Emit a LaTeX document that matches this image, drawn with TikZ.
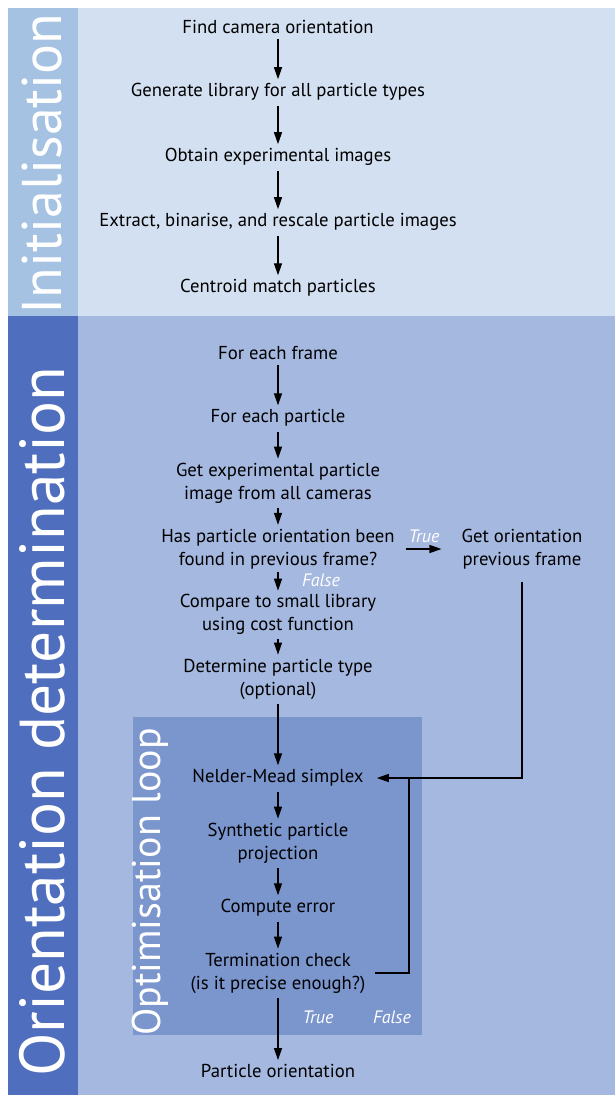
\documentclass[tikz,border=0pt]{standalone}
\usepackage{fontspec}
\setmainfont{PT Sans}
\usetikzlibrary{arrows.meta}
\definecolor{initback}{HTML}{D3E0F1}
\definecolor{initstrip}{HTML}{A5C2E3}
\definecolor{detback}{HTML}{A5B8E0}
\definecolor{detstrip}{HTML}{4F6EBD}
\definecolor{loopback}{HTML}{7B95CD}
\begin{document}
\begin{tikzpicture}[x=1pt,y=-1pt,
	stage/.style={align=center, inner sep=2pt, font=\fontsize{18.7}{23}\selectfont},
	flow/.style={-{Triangle[length=12pt,width=8pt]}, line width=1.3pt, shorten <=3pt, shorten >=2pt},
	tag/.style={text=white, font=\fontsize{18}{18}\selectfont\itshape},
	band/.style={text=white, rotate=90, font=\fontsize{56}{56}\selectfont}]
		\useasboundingbox (0,0) rectangle (615,1095);
		% Background bands
		\fill[initstrip] (8,8) rectangle (78,316);
		\fill[initback] (78,8) rectangle (615,316);
		\fill[detstrip] (8,316) rectangle (78,1095);
		\fill[detback] (78,316) rectangle (615,1095);
		\fill[loopback] (133,717) rectangle (422,1035);
		\node[band] (initlabel) at (42,164) {Initialisation};
		\node[band, font=\fontsize{63.5}{63.5}\selectfont] (detlabel) at (42,722) {Orientation determination};
		\node[band, font=\fontsize{40}{40}\selectfont] (looplabel) at (150,882) {Optimisation loop};

		% Initialisation steps
		\node[stage] (find) at (278,27) {Find camera orientation};
		\node[stage] (gen) at (278,92) {Generate library for all particle types};
		\node[stage] (obtain) at (278,157) {Obtain experimental images};
		\node[stage] (extract) at (278,222) {Extract, binarise, and rescale particle images};
		\node[stage] (centroid) at (278,288) {Centroid match particles};
		\draw[flow] (find) -- (gen);
		\draw[flow] (gen) -- (obtain);
		\draw[flow] (obtain) -- (extract);
		\draw[flow] (extract) -- (centroid);

		% Orientation determination steps
		\node[stage] (frame) at (278,353) {For each frame};
		\node[stage] (particle) at (278,418) {For each particle};
		\node[stage] (getimg) at (278,483) {Get experimental particle\\image from all cameras};
		\node[stage] (has) at (278,549) {Has particle orientation been\\found in previous frame?};
		\node[stage] (prev) at (522,549) {Get orientation\\previous frame};
		\node[stage] (compare) at (278,614) {Compare to small library\\using cost function};
		\node[stage] (determine) at (278,679) {Determine particle type\\(optional)};
		\draw[flow] (frame) -- (particle);
		\draw[flow] (particle) -- (getimg);
		\draw[flow] (getimg) -- (has);
		\draw[flow, shorten <=9pt, shorten >=18pt] (has) -- (prev);
		\node[tag] (hastrue) at (424,536) {True};
		\draw[flow, shorten <=1pt, shorten >=1pt] (has) -- (compare);
		\node[tag] (hasfalse) at (321,580) {False};
		\draw[flow] (compare) -- (determine);

		% Optimisation loop
		\node[stage] (simplex) at (278,778) {Nelder-Mead simplex};
		\node[stage] (synth) at (278,843) {Synthetic particle\\projection};
		\node[stage] (error) at (278,908) {Compute error};
		\node[stage] (term) at (278,973) {Termination check\\(is it precise enough?)};
		\node[stage] (result) at (278,1071) {Particle orientation};
		\coordinate (join) at (409,778);
		\draw[flow] (determine) -- (simplex);
		\draw[flow, shorten <=11pt, shorten >=11pt] (prev) |- (simplex);
		\draw[line width=1.3pt, shorten <=8pt] (term) -| (join);
		\draw[flow] (simplex) -- (synth);
		\draw[flow] (synth) -- (error);
		\draw[flow] (error) -- (term);
		\draw[flow] (term) -- (result);
		\node[tag] (termtrue) at (318,1017) {True};
		\node[tag] (termfalse) at (392,1017) {False};
	\end{tikzpicture}
\end{document}
